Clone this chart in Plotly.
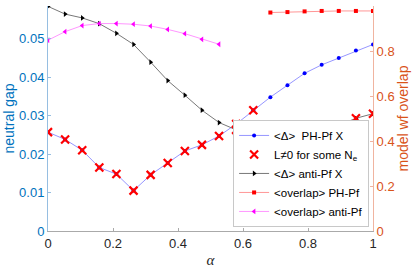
import plotly.graph_objects as go

alpha = [0, 0.0526, 0.1053, 0.1579, 0.2105, 0.2632, 0.3158, 0.3684, 0.4211, 0.4737,
         0.5263, 0.5789, 0.6316, 0.6842, 0.7368, 0.7895, 0.8421, 0.8947, 0.9474, 1.0]

gap_ph_pf = [0.0257, 0.0238, 0.0210, 0.0165, 0.0148, 0.0105, 0.0146, 0.0177, 0.0208, 0.0224,
             0.0247, 0.0278, 0.0314, 0.0348, 0.0379, 0.0410, 0.0432, 0.0450, 0.0469, 0.0485]
gap_anti_pf = [0.0584, 0.0564, 0.0554, 0.0539, 0.0514, 0.0485, 0.0439, 0.0391, 0.0353, 0.0314,
               0.0282, 0.0263, 0.0261, 0.0259, 0.0259, 0.0261, 0.0268, 0.0275, 0.0293, 0.0305]
# L != 0 for some N_e flags
lnz_ph_pf = [1, 1, 1, 1, 1, 1, 1, 1, 1, 1, 1, 1, 1, 0, 0, 0, 0, 0, 0, 0]
lnz_anti_pf = [0, 0, 0, 0, 0, 0, 0, 0, 0, 0, 0, 1, 1, 1, 1, 1, 1, 1, 1, 1]

overlap_anti_pf = [0.848, 0.886, 0.913, 0.922, 0.922, 0.919, 0.911, 0.896, 0.877, 0.852, 0.830,
                   None, None, None, None, None, None, None, None, None]
overlap_ph_pf = [None, None, None, None, None, None, None, None, None, None, None, None, None,
                 0.971, 0.973, 0.976, 0.978, 0.978, 0.978, 0.978]

BLUE = "rgb(0,114,189)"
ORANGE = "rgb(217,83,25)"
FONT = "Liberation Sans, Arial, sans-serif"

# red X points built from flags
lx, ly = [], []
for a, g, f in zip(alpha, gap_ph_pf, lnz_ph_pf):
    if f:
        lx.append(a); ly.append(g)
for a, g, f in zip(alpha, gap_anti_pf, lnz_anti_pf):
    if f:
        lx.append(a); ly.append(g)

fig = go.Figure()
fig.add_trace(go.Scatter(
    x=alpha, y=gap_ph_pf, mode="lines+markers", name="&lt;Δ&gt;  PH-Pf X",
    line=dict(color="rgb(150,150,255)", width=1),
    marker=dict(symbol="circle", size=4, color="blue"), legendrank=1))
fig.add_trace(go.Scatter(
    x=alpha, y=gap_anti_pf, mode="lines+markers", name="&lt;Δ&gt; anti-Pf X",
    line=dict(color="rgb(120,120,120)", width=1),
    marker=dict(symbol="triangle-right", size=5, color="black"), legendrank=3))
fig.add_trace(go.Scatter(
    x=lx, y=ly, mode="markers", name="L≠0 for some N<sub>e</sub>",
    marker=dict(symbol="x-thin", size=8, color="red", line=dict(color="red", width=2.2)),
    legendrank=2))
fig.add_trace(go.Scatter(
    x=alpha, y=overlap_ph_pf, mode="lines+markers", name="&lt;overlap&gt; PH-Pf",
    line=dict(color="rgb(255,150,150)", width=1),
    marker=dict(symbol="square", size=4, color="red"), yaxis="y2", legendrank=4))
fig.add_trace(go.Scatter(
    x=alpha, y=overlap_anti_pf, mode="lines+markers", name="&lt;overlap&gt; anti-Pf",
    line=dict(color="rgb(255,150,255)", width=1),
    marker=dict(symbol="triangle-left", size=5, color="magenta"), yaxis="y2", legendrank=5))

fig.update_layout(
    width=415, height=269,
    margin=dict(l=48, r=42, t=6, b=38),
    paper_bgcolor="white", plot_bgcolor="white",
    font=dict(family=FONT, size=13, color="rgb(38,38,38)"),
    xaxis=dict(range=[0, 1], tickvals=[0, 0.2, 0.4, 0.6, 0.8, 1],
               ticktext=["0", "0.2", "0.4", "0.6", "0.8", "1"],
               showline=True, linecolor="rgb(170,170,170)", linewidth=1,
               ticks="inside", ticklen=3, tickcolor="rgb(170,170,170)",
               showgrid=False, zeroline=False, automargin=False,
               tickfont=dict(size=13, color="rgb(38,38,38)"),
               title=dict(text="<i>α</i>", font=dict(family="Liberation Serif, Times New Roman, serif",
                                                     size=15, color="rgb(38,38,38)"), standoff=4)),
    yaxis=dict(range=[0, 0.0585], tickvals=[0, 0.01, 0.02, 0.03, 0.04, 0.05],
               ticktext=["0", "0.01", "0.02", "0.03", "0.04", "0.05"],
               showline=True, linecolor="rgb(150,190,225)", linewidth=1,
               ticks="inside", ticklen=3, tickcolor="rgb(150,190,225)",
               showgrid=False, zeroline=False, automargin=False,
               tickfont=dict(size=13, color=BLUE),
               title=dict(text="neutral gap", font=dict(size=14, color=BLUE), standoff=1)),
    yaxis2=dict(range=[0, 1], tickvals=[0, 0.2, 0.4, 0.6, 0.8, 1],
                ticktext=["0", "0.2", "0.4", "0.6", "0.8", "1"],
                overlaying="y", side="right",
                showline=True, linecolor="rgb(240,180,160)", linewidth=1,
                ticks="inside", ticklen=3, tickcolor="rgb(240,180,160)",
                showgrid=False, zeroline=False, automargin=False,
                tickfont=dict(size=13, color=ORANGE),
                title=dict(text="model wf overlap", font=dict(size=14, color=ORANGE), standoff=4)),
    legend=dict(x=0.988, y=0.018, xanchor="right", yanchor="bottom",
                bgcolor="white", bordercolor="rgb(200,200,200)", borderwidth=1,
                font=dict(size=11.5, color="black"), tracegroupgap=0,
                itemwidth=30),
    showlegend=True,
)

fig.write_html("out.html", config={"displayModeBar": False},
               post_script="document.body.style.margin='0px';")
